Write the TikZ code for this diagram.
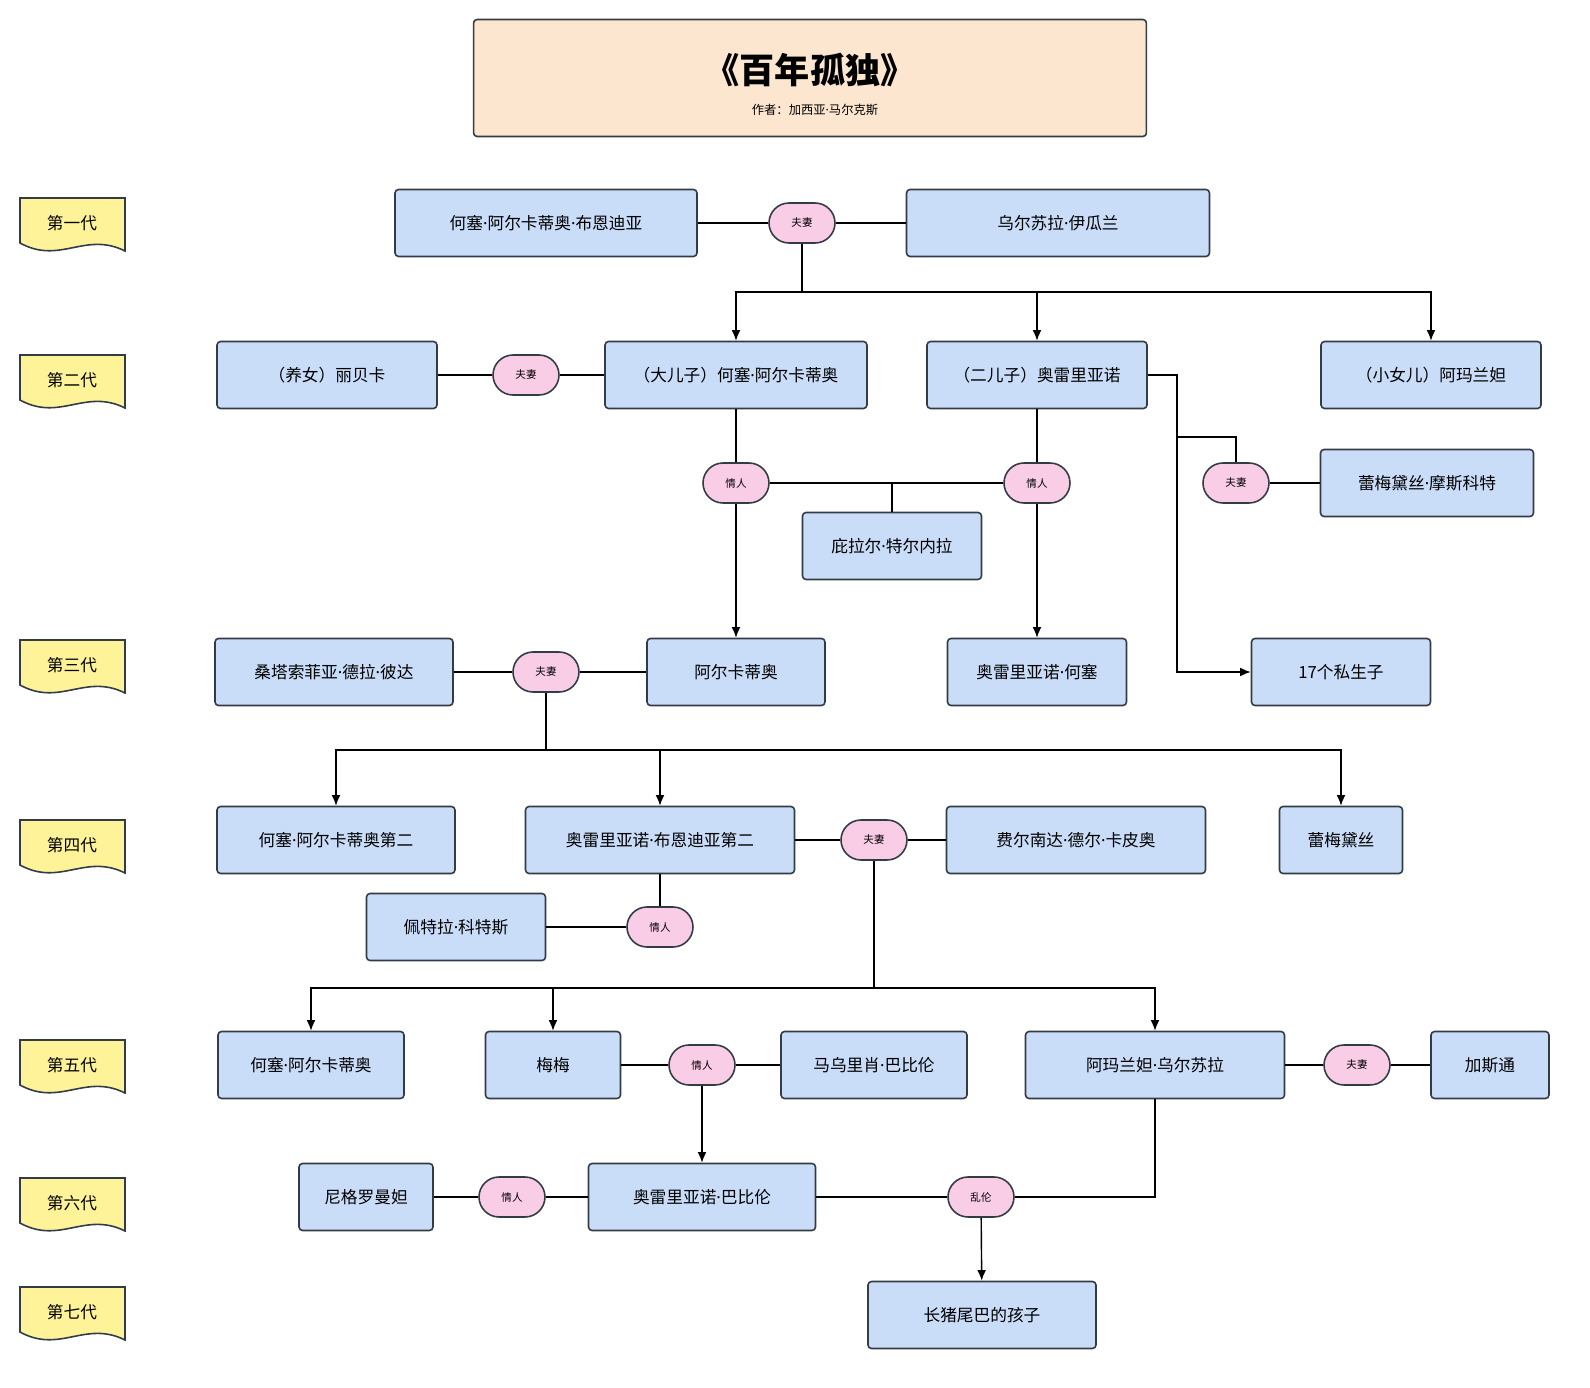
\documentclass[tikz,border=0pt]{standalone}
\usepackage{fontspec}
\setmainfont{Noto Sans CJK SC}
\newfontfamily\latinfont{Noto Sans}
\newcommand{\dt}{{\latinfont ·}}
\usetikzlibrary{arrows.meta}

\definecolor{personfill}{HTML}{C9DCF8}
\definecolor{tagfill}{HTML}{F9CDE6}
\definecolor{genfill}{HTML}{FFF39A}
\definecolor{titlefill}{HTML}{FCE6D0}
\definecolor{edge}{HTML}{333B45}

\tikzset{
  person/.style={draw=edge, fill=personfill, line width=0.9pt, rounded corners=2pt,
    minimum height=1.34cm, inner sep=0pt, font=\fontsize{9.5}{11}\selectfont},
  tag/.style={draw=edge, fill=tagfill, line width=0.9pt, rounded corners=0.4cm,
    minimum width=1.32cm, minimum height=0.8cm, inner sep=0pt, font=\fontsize{6}{7}\selectfont},
  link/.style={draw=black, line width=0.8pt},
  arrow/.style={link, -{Latex[length=6pt,width=5pt]}}
}

\begin{document}
\begin{tikzpicture}[x=0.02cm, y=-0.02cm]
    \useasboundingbox (0,0) rectangle (1590,1388);

    % Title
    \node[draw=edge, fill=titlefill, line width=0.9pt, rounded corners=2pt,
      minimum width=13.46cm, minimum height=2.34cm] (title) at (810,78) {};
    \node[font=\bfseries\fontsize{20}{24}\selectfont] (name) at (810,70) {《百年孤独》};
    \node[font=\fontsize{7}{8}\selectfont] (author) at (815,110) {作者：加西亚\dt 马尔克斯};

    % Generation labels
    \foreach \y/\t [count=\i] in {223/第一代, 380/第二代, 665/第三代, 845/第四代,
        1065/第五代, 1203/第六代, 1312/第七代}{
      \draw[fill=genfill, draw=edge, line width=0.9pt] (20,\y-25) -- (125,\y-25) -- (125,\y+28)
        .. controls (85,\y+8) and (60,\y+42) .. (20,\y+20) -- cycle;
      \node[font=\fontsize{9.5}{11}\selectfont] (gen\i) at (72,\y) {\t};
    }

    % First generation
    \node[person, minimum width=6.04cm] (jab) at (546,223) {何塞\dt 阿尔卡蒂奥\dt 布恩迪亚};
    \node[person, minimum width=6.06cm] (urs) at (1058,223) {乌尔苏拉\dt 伊瓜兰};
    \node[tag] (t1) at (802,223) {夫妻};

    % Second generation
    \node[person, minimum width=4.4cm] (reb) at (327,375) {（养女）丽贝卡};
    \node[tag] (t2) at (526,375) {夫妻};
    \node[person, minimum width=5.24cm] (ja) at (736,375) {（大儿子）何塞\dt 阿尔卡蒂奥};
    \node[person, minimum width=4.4cm] (aur) at (1037,375) {（二儿子）奥雷里亚诺};
    \node[person, minimum width=4.4cm] (ama) at (1431,375) {（小女儿）阿玛兰妲};
    \node[tag] (t3) at (736,483) {情人};
    \node[tag] (t4) at (1037,483) {情人};
    \node[person, minimum width=3.58cm] (pil) at (892,546) {庇拉尔\dt 特尔内拉};
    \node[tag] (t5) at (1236,483) {夫妻};
    \node[person, minimum width=4.26cm] (rem) at (1427,483) {蕾梅黛丝\dt 摩斯科特};

    % Third generation
    \node[person, minimum width=4.76cm] (san) at (334,672) {桑塔索菲亚\dt 德拉\dt 彼达};
    \node[tag] (t6) at (546,672) {夫妻};
    \node[person, minimum width=3.56cm] (arc) at (736,672) {阿尔卡蒂奥};
    \node[person, minimum width=3.58cm] (aj) at (1037,672) {奥雷里亚诺\dt 何塞};
    \node[person, minimum width=3.58cm] (sev) at (1341,672) {17个私生子};

    % Fourth generation
    \node[person, minimum width=4.76cm] (jas) at (336,840) {何塞\dt 阿尔卡蒂奥第二};
    \node[person, minimum width=5.38cm] (ab) at (660,840) {奥雷里亚诺\dt 布恩迪亚第二};
    \node[tag] (t7) at (874,840) {夫妻};
    \node[person, minimum width=5.18cm] (fer) at (1076,840) {费尔南达\dt 德尔\dt 卡皮奥};
    \node[person, minimum width=2.46cm] (rb) at (1341,840) {蕾梅黛丝};
    \node[person, minimum width=3.58cm] (pet) at (456,927) {佩特拉\dt 科特斯};
    \node[tag] (t8) at (660,927) {情人};

    % Fifth generation
    \node[person, minimum width=3.72cm] (jo) at (311,1065) {何塞\dt 阿尔卡蒂奥};
    \node[person, minimum width=2.7cm] (mem) at (553,1065) {梅梅};
    \node[tag] (t9) at (702,1065) {情人};
    \node[person, minimum width=3.72cm] (mau) at (874,1065) {马乌里肖\dt 巴比伦};
    \node[person, minimum width=5.18cm] (amu) at (1155,1065) {阿玛兰妲\dt 乌尔苏拉};
    \node[tag] (t10) at (1357,1065) {夫妻};
    \node[person, minimum width=2.36cm] (gas) at (1490,1065) {加斯通};

    % Sixth and seventh generation
    \node[person, minimum width=2.68cm] (nig) at (366,1197) {尼格罗曼妲};
    \node[tag] (t11) at (512,1197) {情人};
    \node[person, minimum width=4.54cm] (aub) at (702,1197) {奥雷里亚诺\dt 巴比伦};
    \node[tag] (t12) at (981,1197) {乱伦};
    \node[person, minimum width=4.56cm] (kid) at (982,1315) {长猪尾巴的孩子};

    % Couples and lovers
    \draw[link] (jab) -- (t1) -- (urs);
    \draw[link] (reb) -- (t2) -- (ja);
    \draw[link] (ja) -- (t3);
    \draw[link] (aur) -- (t4);
    \draw[link] (t3) -| (pil.north);
    \draw[link] (t4) -| (pil.north);
    \draw[link] (t5) -- (rem);
    \draw[link] (san) -- (t6) -- (arc);
    \draw[link] (ab) -- (t7) -- (fer);
    \draw[link] (ab) -- (t8);
    \draw[link] (pet) -- (t8);
    \draw[link] (mem) -- (t9) -- (mau);
    \draw[link] (amu) -- (t10) -- (gas);
    \draw[link] (nig) -- (t11) -- (aub);
    \draw[link] (aub) -- (t12);
    \draw[link] (amu.south) |- (t12.east);

    % Children
    \coordinate (b1) at (802,292);
    \draw[link] (t1) -- (b1);
    \draw[arrow] (b1) -| (ja.north);
    \draw[arrow] (b1) -| (aur.north);
    \draw[arrow] (b1) -| (ama.north);
    \draw[arrow] (t3) -- (arc);
    \draw[arrow] (t4) -- (aj);
    \coordinate (b2) at (1177,437);
    \draw[link] (aur.east) -| (b2) -| (t5.north);
    \draw[arrow] (b2) |- (sev.west);
    \coordinate (b3) at (546,750);
    \draw[link] (t6) -- (b3);
    \draw[arrow] (b3) -| (jas.north);
    \draw[arrow] (b3) -| (ab.north);
    \draw[arrow] (b3) -| (rb.north);
    \coordinate (b4) at (874,988);
    \draw[link] (t7) -- (b4);
    \draw[arrow] (b4) -| (jo.north);
    \draw[arrow] (b4) -| (mem.north);
    \draw[arrow] (b4) -| (amu.north);
    \draw[arrow] (t9) -- (aub);
    \draw[arrow] (t12) -- (kid);

\end{tikzpicture}
\end{document}
